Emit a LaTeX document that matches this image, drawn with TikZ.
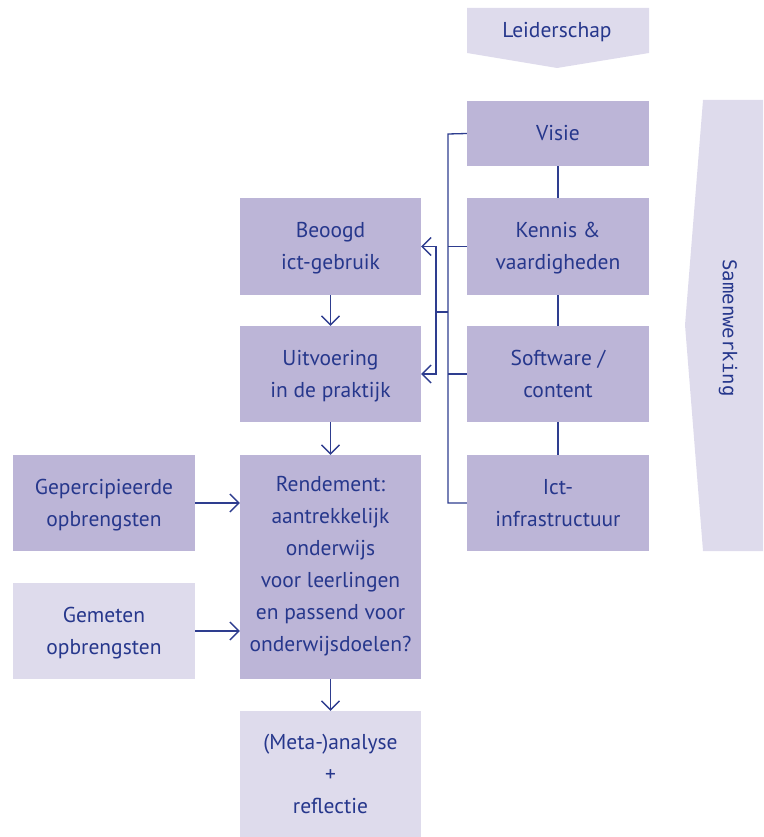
\documentclass[tikz,border=0pt]{standalone}
\usepackage{fontspec}
\setmainfont{PT Sans}
\newfontfamily\samenfont{DejaVu Sans Mono}
\usetikzlibrary{arrows.meta}
\definecolor{txt}{HTML}{26378C}
\definecolor{ln}{HTML}{2E3D8F}
\definecolor{dark}{HTML}{BCB5D7}
\definecolor{light}{HTML}{DEDBEC}
% centred lines, 32pt apart, lowered by the optional amount (pt)
\newcommand\bxt[2][1]{\raisebox{-#1pt}[\height][\depth]{\begin{tabular}{@{}c@{}}#2\end{tabular}}}
\tikzset{
  box/.style={fill=dark, draw=none, text=txt, inner sep=0pt,
    font=\fontsize{21.5}{32}\selectfont},
  lbox/.style={box, fill=light},
  conn/.style={draw=ln, line width=1.3pt},
  arr/.style={conn, -{Straight Barb[length=9pt,width=18pt,line width=1.3pt]}}
}
\begin{document}
\begin{tikzpicture}[x=1pt,y=-1pt]
\useasboundingbox (0,0) rectangle (763,837);
% Leiderschap arrow
\fill[light] (467,8) -- (649,8) -- (649,53) -- (557,68) -- (467,53) -- cycle;
\node[text=txt, inner sep=0pt, font=\fontsize{21.5}{32}\selectfont] (leid) at (557,31.5) {\bxt[0]{Leiderschap}};
% Samenwerking arrow
\fill[light] (703,100) -- (763,100) -- (763,551) -- (703,551) -- (685,325) -- cycle;
\node[text=txt, font=\samenfont\fontsize{19}{24}\selectfont, rotate=-90] (samen) at (728,328) {Samenwerking};
% right column
\node[box, minimum width=182pt, minimum height=65pt] (visie) at (558,133.5) {\bxt{Visie}};
\node[box, minimum width=182pt, minimum height=97pt] (kennis) at (558,246.5) {\bxt{Kennis \&\\vaardigheden}};
\node[box, minimum width=182pt, minimum height=96pt] (soft) at (558,374) {\bxt{Software /\\content}};
\node[box, minimum width=182pt, minimum height=96pt] (ict) at (558,503) {\bxt{Ict-\\infrastructuur}};
% middle column
\node[box, minimum width=181pt, minimum height=97pt] (beoogd) at (330.5,246.5) {\bxt{Beoogd\\ict-gebruik}};
\node[box, minimum width=181pt, minimum height=96pt] (uitv) at (330.5,374) {\bxt{Uitvoering\\in de praktijk}};
\node[box, minimum width=181pt, minimum height=224pt] (rend) at (330.5,567) {\bxt[-2]{Rendement:\\aantrekkelijk\\onderwijs\\voor leerlingen\\en passend voor\\onderwijsdoelen?}};
\node[lbox, minimum width=181pt, minimum height=126pt] (meta) at (330.5,774) {\bxt{(Meta-)analyse\\+\\reflectie}};
% left column
\node[box, minimum width=182pt, minimum height=96pt] (gep) at (104,503) {\bxt{Gepercipieerde\\opbrengsten}};
\node[lbox, minimum width=182pt, minimum height=96pt] (gem) at (104,631) {\bxt{Gemeten\\opbrengsten}};
% connectors right column
\draw[conn] (visie) -- (kennis);
\draw[conn] (kennis) -- (soft);
\draw[conn] (soft) -- (ict);
\coordinate (bt) at (448,134);
\draw[conn] (visie.west) -- (bt) |- (ict.west);
\draw[conn] (kennis.west) -- (kennis.west -| bt);
\draw[conn] (soft.west) -- (soft.west -| bt);
\coordinate (jb) at (448,312);
\coordinate (ji) at (436,312);
\draw[conn] (jb) -- (ji);
\draw[arr] (ji) |- (beoogd.east);
\draw[arr] (ji) |- (uitv.east);
% middle arrows
\draw[arr] (beoogd) -- (uitv);
\draw[arr] (uitv) -- (rend);
\draw[arr] (rend) -- (meta);
\draw[arr] (gep) -- (gep -| rend.west);
\draw[arr] (gem) -- (gem -| rend.west);
\end{tikzpicture}
\end{document}
